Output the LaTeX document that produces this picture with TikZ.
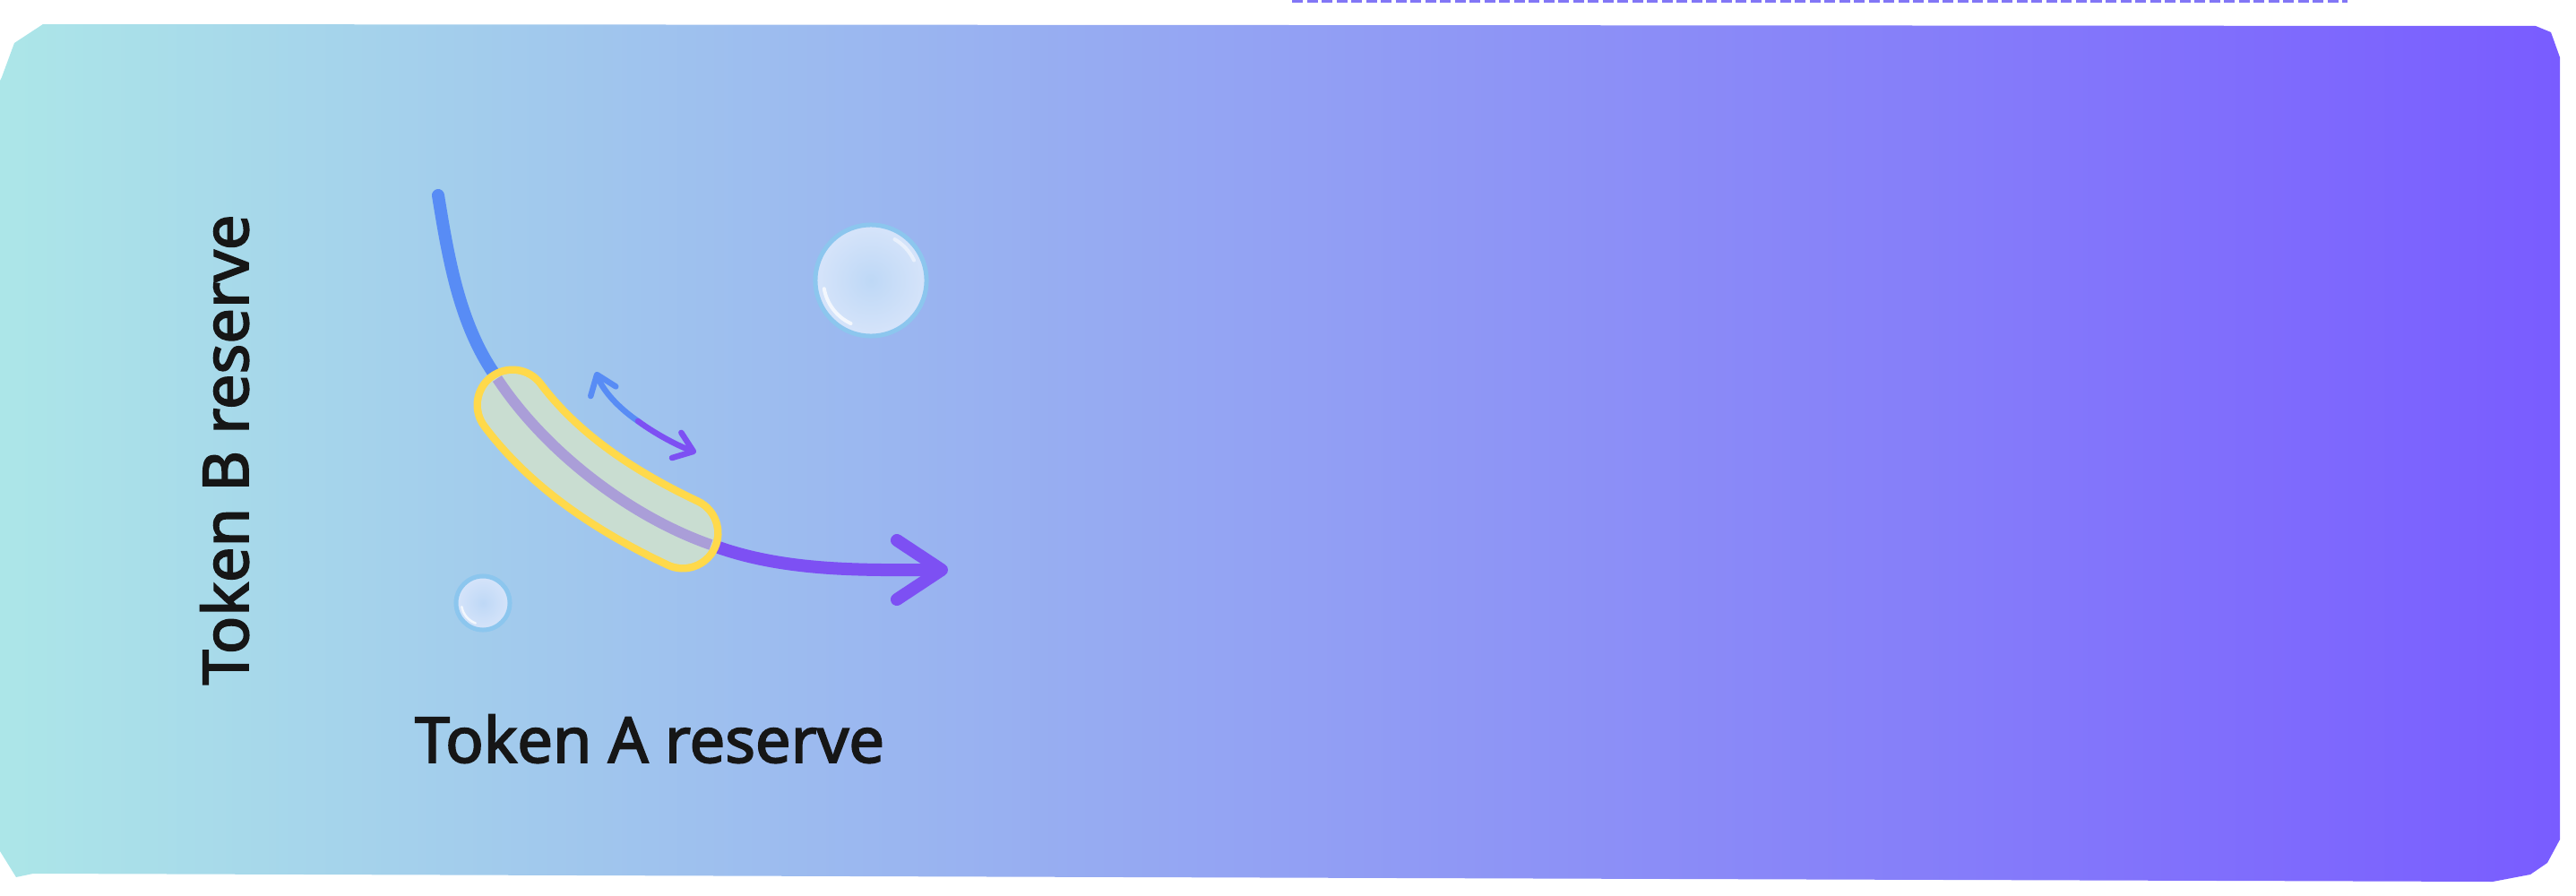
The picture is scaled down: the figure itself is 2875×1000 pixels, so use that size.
\documentclass[tikz,border=0pt]{standalone}
\usepackage{fontspec}
\usepackage{xcolor}
\usepackage{tikz}
\usetikzlibrary{arrows.meta, positioning, calc}

\newfontfamily\axisfont{Noto Sans}[FakeBold=2.5]

\definecolor{cardleft}{RGB}{172,230,232}
\definecolor{cardright}{RGB}{121,92,255}
\definecolor{curveblue}{RGB}{88,140,245}
\definecolor{curvepurple}{RGB}{125,80,243}
\definecolor{curvelilac}{RGB}{170,158,216}
\definecolor{blobyellow}{RGB}{255,217,75}
\definecolor{blobgreen}{RGB}{201,221,209}
\definecolor{bubblecore}{RGB}{190,216,246}
\definecolor{bubbleedge}{RGB}{214,228,250}
\definecolor{bubblering}{RGB}{140,198,238}
\definecolor{inkdark}{RGB}{22,22,22}
\definecolor{dashblue}{RGB}{130,118,246}

\begin{document}
\begin{tikzpicture}[
    x=0.01cm, y=-0.01cm,
    axislabel/.style={font=\axisfont\fontsize{20pt}{24pt}\selectfont, text=inkdark, inner sep=0pt, anchor=base},
    maincurve/.style={line width=0.14cm, line cap=round},
    swingarrow/.style={line width=0.065cm, line cap=round},
    bigtip/.tip={Straight Barb[length=0.5cm, width=0.66cm, line width=0.14cm, round]},
    smalltip/.tip={Straight Barb[length=0.2cm, width=0.3cm, line width=0.065cm, round]},
    blobedge/.style={draw=blobyellow, line width=0.87cm, line cap=round},
    blobfill/.style={draw=blobgreen, line width=0.70cm, line cap=round},
    bubble/.style={circle, draw=bubblering, line width=0.05cm, inner color=bubblecore, outer color=bubbleedge, inner sep=0pt},
    sheen/.style={draw=white, opacity=0.75, line width=0.04cm, line cap=round},
    topdash/.style={draw=dashblue, line width=0.035cm, dash pattern=on 0.12cm off 0.045cm}
]
    \useasboundingbox (0,0) rectangle (2875,1000);

    % Card
    \shade[left color=cardleft, right color=cardright]
        (48,27) -- (2830,29) -- (2847,36) -- (2857,64) -- (2857,937) -- (2843,963)
        -- (2824,976) -- (2782,984) -- (37,975) -- (18,979) -- (0,950) -- (0,90)
        -- (2,86) -- (16,48) -- cycle;
    \coordinate (dashL) at (1442,1.7);
    \coordinate (dashR) at (2620,1.7);
    \draw[topdash] (dashL) -- (dashR);

    % Bubbles
    \node[bubble, minimum size=1.24cm] (bigbubble) at (972,313) {};
    \node[bubble, minimum size=0.60cm] (smallbubble) at (539,673) {};
    \draw[sheen] ([shift={(190:0.53cm)}]bigbubble.center) arc[start angle=190, end angle=245, radius=0.53cm];
    \draw[sheen, opacity=0.5] ([shift={(25:0.53cm)}]bigbubble.center) arc[start angle=25, end angle=60, radius=0.53cm];
    \draw[sheen, line width=0.025cm] ([shift={(190:0.24cm)}]smallbubble.center) arc[start angle=190, end angle=250, radius=0.24cm];

    % Curve points
    \coordinate (curvetop) at (489,218);
    \coordinate (blobin) at (550,415);
    \coordinate (blobout) at (802,611);
    \coordinate (curvetip) at (1058,636);
    \coordinate (blobA) at (572,452);
    \coordinate (blobB) at (762,595);

    % Curve
    \draw[maincurve, draw=curveblue] (curvetop) .. controls (500,286) and (512,358) .. (blobin);
    \draw[maincurve, draw=curvepurple, -{bigtip}]
        (blobout) .. controls (882,639) and (973,636) .. (curvetip);

    % Range band
    \draw[blobedge] (blobA) .. controls (620,516) and (690,561) .. (blobB);
    \draw[blobfill] (blobA) .. controls (620,516) and (690,561) .. (blobB);
    \draw[maincurve, line width=0.12cm, draw=curvelilac, line cap=butt, shorten <=0.09cm, shorten >=0.09cm]
        (blobin) .. controls (608,503) and (702,576) .. (blobout);

    % Swing arrow
    \coordinate (swingtop) at (665,415);
    \coordinate (swingmid) at (712,470);
    \coordinate (swingend) at (777,505);
    \draw[swingarrow, draw=curveblue, {smalltip}-]
        (swingtop) .. controls (673,436) and (690,455) .. (swingmid);
    \draw[swingarrow, draw=curvepurple, -{smalltip}]
        (swingmid) .. controls (734,486) and (758,498) .. (swingend);

    % Axis labels
    \node[axislabel, rotate=90] (breserve) at (277,502) {Token B reserve};
    \node[axislabel] (areserve) at (725,851) {Token A reserve};

\end{tikzpicture}
\end{document}
